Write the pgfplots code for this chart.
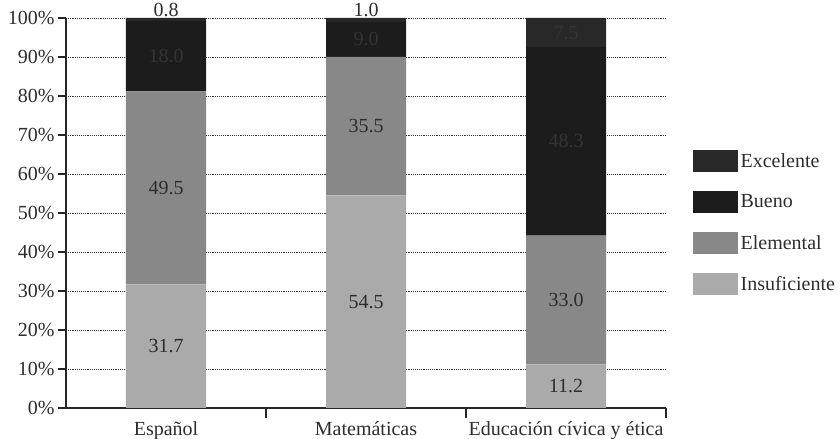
\documentclass[border=0pt]{standalone}
\usepackage{pgfplots}
\pgfplotsset{compat=1.18}
\usepackage{fontspec}
\setmainfont{Liberation Serif}

\definecolor{insuf}{RGB}{170,170,170}
\definecolor{elem}{RGB}{136,136,136}
\definecolor{bueno}{RGB}{28,28,28}
\definecolor{excel}{RGB}{40,40,40}
\definecolor{txt}{RGB}{45,45,45}
\definecolor{txtdark}{RGB}{52,52,52}

\begin{document}
\begin{tikzpicture}[font=\fontsize{15}{17}\selectfont]
\begin{axis}[
  at={(0,0)}, anchor=south west,
  width=450pt, height=292.5pt, scale only axis,
  ybar stacked, bar width=60pt,
  xmin=-0.5, xmax=2.5, ymin=0, ymax=100,
  axis lines*=left,
  axis line style={line width=1pt, color=black!85},
  tick align=outside,
  xtick={0,1,2},
  xticklabels={Español, Matemáticas, Educación cívica y ética},
  major x tick style={draw=none},
  minor xtick={0.5,1.5,2.5},
  minor tick length=7.5pt,
  minor x tick style={line width=0.8pt, black!85},
  ytick={0,10,...,100},
  yticklabel={\pgfmathprintnumber{\tick}\%},
  /pgf/number format/assume math mode=true,
  major tick length=6pt,
  ytick style={line width=0.8pt, black!85},
  ticklabel style={text=txt},
  yticklabel style={xshift=1pt},
  xticklabel style={yshift=-1pt},
  ymajorgrids,
  grid style={densely dotted, line width=0.7pt, black!80},
  reverse legend,
  legend image code/.code={\fill[#1] (0pt,-8.25pt) rectangle (33.75pt,8.25pt);},
  legend style={draw=none, fill=none, at={(1,0.475)}, anchor=west, xshift=17pt,
    row sep=14.2pt, cells={anchor=west}, text=txt},
]
\addplot[fill=insuf, draw=none] coordinates {(0,31.7) (1,54.5) (2,11.2)};
\addplot[fill=elem, draw=none] coordinates {(0,49.5) (1,35.5) (2,33.0)};
\addplot[fill=bueno, draw=none] coordinates {(0,18.0) (1,9.0) (2,48.3)};
\addplot[fill=excel, draw=none] coordinates {(0,0.8) (1,1.0) (2,7.5)};
\legend{Insuficiente, Elemental, Bueno, Excelente}
\end{axis}
\begin{axis}[
  at={(0,0)}, anchor=south west,
  width=450pt, height=292.5pt, scale only axis,
  xmin=-0.5, xmax=2.5, ymin=0, ymax=100,
  hide axis, clip=false,
]
\addplot[draw=none, mark=none, nodes near coords, point meta=explicit symbolic,
  nodes near coords align=center, every node near coord/.append style={text=txt}]
  table[meta=lab] {
x y lab
0 15.85 31.7
0 56.45 49.5
1 27.25 54.5
1 72.25 35.5
2 5.6 11.2
2 27.7 33.0
0 102.0 0.8
1 102.0 1.0
};
\addplot[draw=none, mark=none, nodes near coords, point meta=explicit symbolic,
  nodes near coords align=center, every node near coord/.append style={text=txtdark}]
  table[meta=lab] {
x y lab
0 90.2 18.0
1 94.5 9.0
2 68.35 48.3
2 96.25 7.5
};
\end{axis}
\pgfresetboundingbox
\path (-49.5pt,-23.25pt) rectangle (580.5pt,306pt);
\end{tikzpicture}
\end{document}
